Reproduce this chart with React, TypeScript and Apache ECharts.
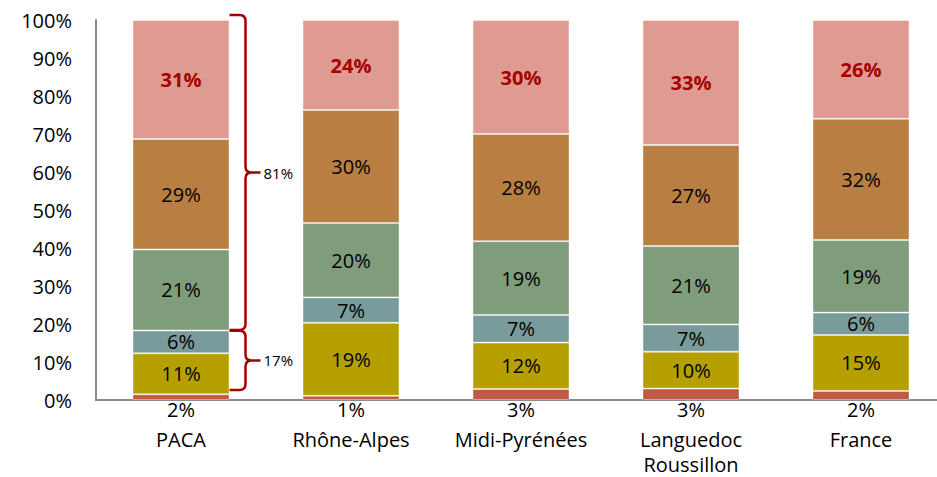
import React, { useEffect, useRef } from "react";
import * as echarts from "echarts";

const categories = ["PACA", "Rhône-Alpes", "Midi-Pyrénées", "Languedoc Roussillon", "France"];
const seriesNames = ["S1", "S2", "S3", "S4", "S5", "S6"];
const s1 = [1.5, 1.1, 2.9, 3.0, 2.4];
const s2 = [10.8, 19.2, 12.2, 9.7, 14.7];
const s3 = [6.0, 6.7, 7.3, 7.2, 5.9];
const s4 = [21.3, 19.6, 19.4, 20.6, 19.1];
const s5 = [29.1, 29.7, 28.2, 26.6, 31.9];
const s6 = [31.3, 23.7, 30.0, 32.9, 26.0];
const colors = ["#BE5A45", "#B5A000", "#7A9B9B", "#7F9C7B", "#B97E41", "#DF9A92"];

// braces on PACA: [category index, low %, high %, label]
const braceCat = [0, 0];
const braceLow = [2.6, 18.4];
const braceHigh = [18.2, 101.3];
const braceLabels = ["17%", "81%"];

const FONT = "'Open Sans', sans-serif";
const BAR_WIDTH = 97;

export default function App() {
  const ref = useRef<HTMLDivElement>(null);
  useEffect(() => {
    document.body.style.margin = "0";
    document.body.style.overflow = "hidden";
    const chart = echarts.init(ref.current!, null, { renderer: "svg" });
    const data = [s1, s2, s3, s4, s5, s6];
    const barSeries = data.map((vals, i) => ({
      type: "bar",
      name: seriesNames[i],
      stack: "total",
      barWidth: BAR_WIDTH,
      data: vals,
      itemStyle: { color: colors[i], borderColor: "rgba(255,255,255,0.4)", borderWidth: 1 },
      label: {
        show: true,
        position: i === 0 ? "bottom" : "inside",
        distance: i === 0 ? -1 : 5,
        formatter: (p: any) => Math.round(p.value) + "%",
        fontFamily: FONT,
        fontSize: 20,
        fontWeight: i === 5 ? "bold" : "normal",
        color: i === 5 ? "#A50000" : "#000",
      },
    }));
    const braceData = braceCat.map((c, i) => [c, braceLow[i], braceHigh[i], braceLabels[i]]);
    const braceSeries = {
      type: "custom",
      coordinateSystem: "cartesian2d",
      clip: false,
      silent: true,
      encode: { x: 0, y: [1, 2] },
      data: braceData,
      renderItem: (params: any, api: any) => {
        const cat = api.value(0);
        const lowP = api.coord([cat, api.value(1)]);
        const highP = api.coord([cat, api.value(2)]);
        const x0 = lowP[0] + BAR_WIDTH / 2;
        const xm = x0 + 16;
        const xt = xm + 15;
        const y1 = highP[1];
        const y2 = lowP[1];
        const ym = (y1 + y2) / 2;
        const r = 6;
        const d =
          `M${x0},${y1} L${xm - r},${y1} Q${xm},${y1} ${xm},${y1 + r} L${xm},${ym - r} Q${xm},${ym} ${xm + r},${ym} L${xt},${ym} ` +
          `M${xm + r},${ym} Q${xm},${ym} ${xm},${ym + r} L${xm},${y2 - r} Q${xm},${y2} ${xm - r},${y2} L${x0},${y2}`;
        return {
          type: "group",
          children: [
            {
              type: "path",
              shape: { pathData: d },
              style: { stroke: "#A50000", fill: "none", lineWidth: 2.5 },
            },
            {
              type: "text",
              x: xt + 3,
              y: ym,
              style: {
                text: braceData[params.dataIndex][3],
                fontFamily: FONT,
                fontSize: 15,
                fill: "#000",
                verticalAlign: "middle",
                align: "left",
              },
            },
          ],
        };
      },
    };
    chart.setOption({
      animation: false,
      grid: { left: 96, top: 20, width: 850, height: 380, outerBoundsMode: "none", containLabel: false },
      xAxis: {
        type: "category",
        data: categories,
        axisLine: { show: true, lineStyle: { color: "#8c8c8c", width: 2 } },
        axisTick: { show: false },
        axisLabel: {
          interval: 0,
          margin: 27,
          fontFamily: FONT,
          fontSize: 20,
          color: "#000",
          lineHeight: 25,
          formatter: (v: string) => v.replace(" ", "\n"),
        },
      },
      yAxis: {
        type: "value",
        min: 0,
        max: 100,
        interval: 10,
        splitLine: { show: false },
        axisLine: { show: true, lineStyle: { color: "#8c8c8c", width: 2 } },
        axisTick: { show: false },
        axisLabel: { margin: 24, fontFamily: FONT, fontSize: 20, color: "#000", formatter: "{value}%" },
      },
      series: [...barSeries, braceSeries],
    });
    return () => chart.dispose();
  }, []);
  return <div ref={ref} style={{ width: 937, height: 477 }} />;
}
